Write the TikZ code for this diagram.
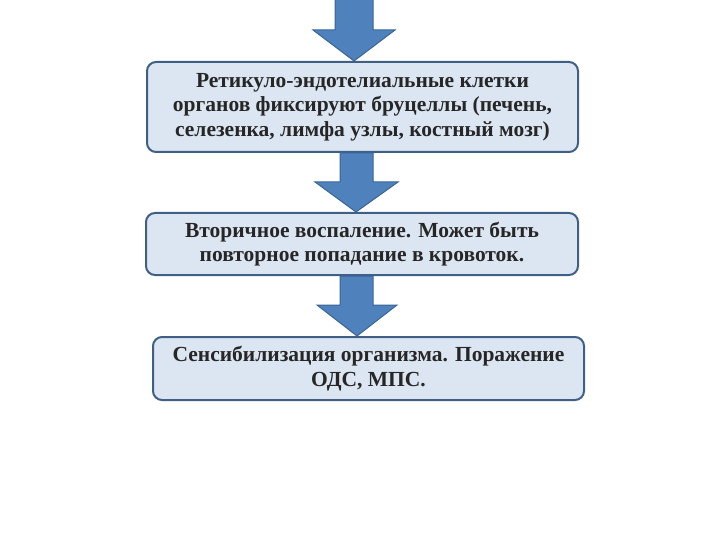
\documentclass[tikz,border=0pt]{standalone}
\usepackage{fontspec}
\setmainfont{Liberation Serif}
\definecolor{boxfill}{HTML}{DCE6F2}
\definecolor{boxline}{HTML}{3F5F85}
\definecolor{arrfill}{HTML}{4F81BD}
\definecolor{arrline}{HTML}{3A6594}
\begin{document}
\begin{tikzpicture}[x=1pt,y=-1pt,
  flowbox/.style={draw=boxline,line width=2pt,fill=boxfill,rounded corners=9pt,align=center,
    font=\bfseries\fontsize{21.5}{24.5}\selectfont,text=black!85,inner sep=0pt},
  blockarrow/.style={fill=arrfill,draw=arrline,line width=1pt}]
\useasboundingbox (0,0) rectangle (720,540);
\node[flowbox,minimum width=431pt,minimum height=90pt] (b1) at (362.5,107)
 {Ретикуло-эндотелиальные клетки\\органов фиксируют бруцеллы (печень,\\селезенка, лимфа узлы, костный мозг)};
\node[flowbox,minimum width=432pt,minimum height=62pt] (b2) at (362,244)
 {Вторичное воспаление. Может быть\\повторное попадание в кровоток.};
\node[flowbox,minimum width=431pt,minimum height=63pt] (b3) at (368.5,368.5)
 {Сенсибилизация организма. Поражение\\ОДС, МПС.};
\coordinate (a0) at (354,0);
\draw[blockarrow] (335,-2) -- (373,-2) -- (373,30) -- (395,30) -- (b1.north -| a0) -- (313,30) -- (335,30) -- cycle;
\coordinate (a1) at (356,0);
\draw[blockarrow] (340,153) -- (373,153) -- (373,182) -- (398,182) -- (b2.north -| a1) -- (315,182) -- (340,182) -- cycle;
\coordinate (a2) at (357,0);
\draw[blockarrow] (340,276) -- (373,276) -- (373,305) -- (397,305) -- (b3.north -| a2) -- (317,305) -- (340,305) -- cycle;
\end{tikzpicture}
\end{document}
